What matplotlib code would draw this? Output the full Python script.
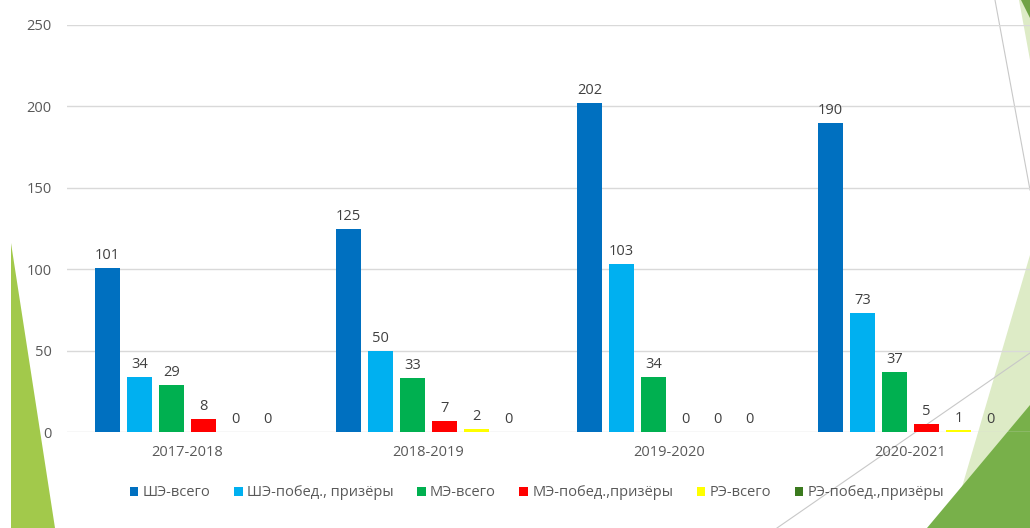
import matplotlib.pyplot as plt
import numpy as np
from matplotlib.patches import Polygon
from matplotlib.lines import Line2D

plt.rcParams['font.family'] = ['Open Sans', 'DejaVu Sans']

years = ['2017-2018', '2018-2019', '2019-2020', '2020-2021']
series_names = ['ШЭ-всего', 'ШЭ-побед., призёры', 'МЭ-всего',
                'МЭ-побед.,призёры', 'РЭ-всего', 'РЭ-побед.,призёры']
she_total = [101, 125, 202, 190]
she_win = [34, 50, 103, 73]
me_total = [29, 33, 34, 37]
me_win = [8, 7, 0, 5]
re_total = [0, 2, 0, 1]
re_win = [0, 0, 0, 0]
colors = ['#0070C0', '#00B0F0', '#00B050', '#FF0000', '#FFFF00', '#3B7A1E']

W, H = 1030, 528
fig = plt.figure(figsize=(W / 100, H / 100), dpi=100)


def px(x, y):
    return (x / W, 1 - y / H)


# slide decorations behind the chart
deco = [
    ([(11, 243), (11, 528), (55, 528)], '#A2C94B'),
    ([(1030, 255), (1030, 528), (950, 528)], '#DDEBC6'),
    ([(1030, 405), (1030, 528), (927, 528)], '#78B04A'),
    ([(1019, 0), (1030, 0), (1030, 60)], '#DDEBC6'),
    ([(1021, 0), (1030, 0), (1030, 18)], '#6FA244'),
]
for pts, c in deco:
    fig.add_artist(Polygon([px(*p) for p in pts], closed=True, facecolor=c,
                           edgecolor='none', transform=fig.transFigure, zorder=-2))
for (x0, y0), (x1, y1) in [((995, 0), (1030, 190)), ((777, 528), (1030, 353))]:
    a, b = px(x0, y0), px(x1, y1)
    fig.add_artist(Line2D([a[0], b[0]], [a[1], b[1]], color='#C8C8C8', lw=0.8,
                          transform=fig.transFigure, zorder=-1))

ax = fig.add_axes([67 / W, 1 - 432 / H, 964 / W, 407 / H])
ax.patch.set_alpha(0)

data = [she_total, she_win, me_total, me_win, re_total, re_win]
x = np.arange(len(years))
step = 0.1328
width = 0.104
for i, (vals, name) in enumerate(zip(data, series_names)):
    pos = x + (i - 2.5) * step
    bars = ax.bar(pos, vals, width, color=colors[i], label=name, zorder=3)
    for b, v in zip(bars, vals):
        ax.annotate(str(v), (b.get_x() + b.get_width() / 2, v), xytext=(0, 3.5),
                    textcoords='offset points', ha='center', va='bottom',
                    fontsize=10.5, color='#404040')

ax.set_xlim(-0.5, 3.5)
ax.set_ylim(0, 250)
ax.set_yticks(range(0, 251, 50))
ax.set_xticks(x)
ax.set_xticklabels(years)
ax.grid(axis='y', color='#D9D9D9', lw=1, zorder=0)
for s in ax.spines.values():
    s.set_visible(False)
ax.tick_params(axis='both', length=0, labelsize=10.5, labelcolor='#595959')
ax.tick_params(axis='y', pad=11)
ax.tick_params(axis='x', pad=9)

ax.legend(loc='center', bbox_to_anchor=px(537, 493), bbox_transform=fig.transFigure,
          ncol=6, frameon=False, fontsize=10.5, handlelength=0.6, handleheight=0.6,
          handletextpad=0.3, columnspacing=1.6, labelcolor='#595959')

fig.savefig('out.png', dpi=100)
